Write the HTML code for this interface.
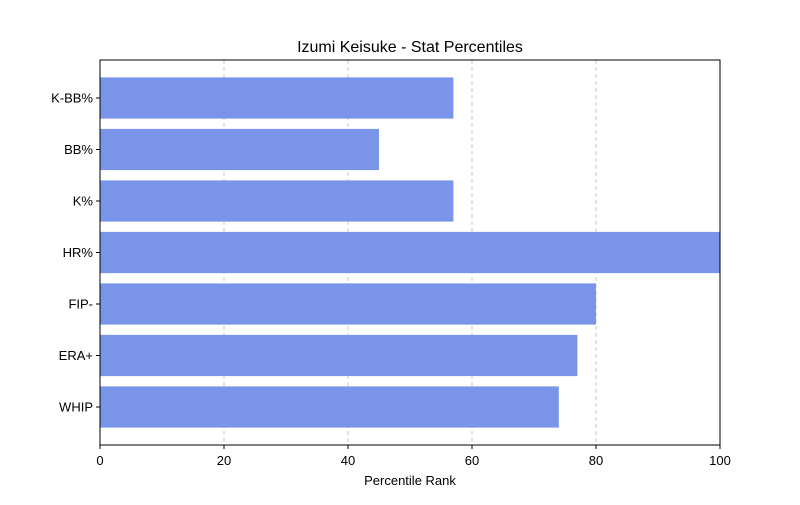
<!DOCTYPE html>
<html><head><meta charset="utf-8"><style>
body{margin:0;background:#fff}
svg text{font-family:"Liberation Sans","DejaVu Sans",sans-serif;fill:#000}
</style></head><body>
<svg id="chart" width="800" height="500" xmlns="http://www.w3.org/2000/svg">
<text x="410" y="52" font-size="16" text-anchor="middle">Izumi Keisuke - Stat Percentiles</text>
<g id="grid"></g><g id="bars"></g><g id="axes"></g>
<text x="410" y="485" font-size="13" text-anchor="middle">Percentile Rank</text>
</svg>
<script>
const categories=["WHIP","ERA+","FIP-","HR%","K%","BB%","K-BB%"];
const values=[74,77,80,100,57,45,57];
const xTicks=[0,20,40,60,80,100];
const L=100,R=720,T=60,B=445;
const x=v=>L+(v/100)*(R-L);
const margin=0.738;
const step=(B-T)/(categories.length-1+2*margin);
const y=i=>B-step*margin-i*step;
const ns="http://www.w3.org/2000/svg";
function mk(tag,attrs,parent,txt){const e=document.createElementNS(ns,tag);for(const k in attrs)e.setAttribute(k,attrs[k]);if(txt!==undefined)e.textContent=txt;document.getElementById(parent).appendChild(e);return e;}
xTicks.forEach(t=>{
 if(t>0&&t<100){const g=mk('line',{x1:x(t),x2:x(t),y1:T,y2:B,stroke:'#bbb','stroke-dasharray':'4,3','stroke-width':0.8},'grid');
 
 }
 const tk=mk('line',{x1:x(t),x2:x(t),y1:B,y2:B+4,stroke:'#000'},'axes');
 
 
 const tl=mk('text',{x:x(t),y:B+20,'font-size':13,'text-anchor':'middle'},'axes',t);
 
 
});
categories.forEach((c,i)=>{
 const h=step*0.8;
 const b=mk('rect',{x:x(0),y:y(i)-h/2,width:x(values[i])-x(0),height:h,fill:'#7994e8'},'bars');
 
 
 const tk=mk('line',{x1:L-4,x2:L,y1:y(i),y2:y(i),stroke:'#000'},'axes');
 
 
 const tl=mk('text',{x:L-7,y:y(i)+4.5,'font-size':13,'text-anchor':'end'},'axes',c);
 
 
});
const fr=mk('rect',{x:L,y:T,width:R-L,height:B-T,fill:'none',stroke:'#000','stroke-width':1},'axes');


</script>
</body></html>
